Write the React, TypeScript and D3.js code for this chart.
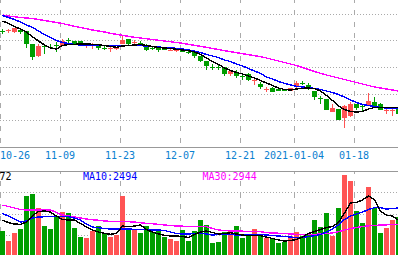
import React, { useEffect } from "react";
import * as d3 from "d3";

const dates = [
  "2020-10-26","2020-10-27","2020-10-28","2020-10-29","2020-10-30",
  "2020-11-02","2020-11-03","2020-11-04","2020-11-05","2020-11-06",
  "2020-11-09","2020-11-10","2020-11-11","2020-11-12","2020-11-13",
  "2020-11-16","2020-11-17","2020-11-18","2020-11-19","2020-11-20",
  "2020-11-23","2020-11-24","2020-11-25","2020-11-26","2020-11-27",
  "2020-11-30","2020-12-01","2020-12-02","2020-12-03","2020-12-04",
  "2020-12-07","2020-12-08","2020-12-09","2020-12-10","2020-12-11",
  "2020-12-14","2020-12-15","2020-12-16","2020-12-17","2020-12-18",
  "2020-12-21","2020-12-22","2020-12-23","2020-12-24","2020-12-25",
  "2020-12-28","2020-12-29","2020-12-30","2020-12-31",
  "2021-01-04","2021-01-05","2021-01-06","2021-01-07","2021-01-08",
  "2021-01-11","2021-01-12","2021-01-13","2021-01-14","2021-01-15",
  "2021-01-18","2021-01-19","2021-01-20","2021-01-21","2021-01-22",
  "2021-01-25","2021-01-26","2021-01-27",
];

const open = [
  18.465,18.45,18.415,18.485,18.45,17.785,17.2,17.715,17.675,17.73,
  17.715,18.01,17.95,17.95,17.75,17.785,17.785,17.595,17.58,17.585,
  17.815,18.05,17.87,17.86,17.75,17.6,17.65,17.615,17.505,17.475,
  17.515,17.42,17.385,17.185,16.95,16.66,16.66,16.65,16.285,16.35,
  16.22,16.315,15.98,15.815,15.545,15.615,15.55,15.49,15.45,15.685,
  15.86,15.75,15.45,15.09,15.05,14.415,14.55,14.1,14.185,14.785,
  14.69,14.75,14.915,14.815,14.51,14.51,14.65,
];
const high = [
  18.55,18.535,18.615,18.515,18.475,17.825,17.785,17.8,17.8,17.885,
  18.05,18.085,17.97,17.96,17.85,17.84,17.8,17.7,17.65,17.675,
  18.185,18.06,17.985,17.95,17.8,17.7,17.67,17.63,17.6,17.55,
  17.53,17.5,17.4,17.225,16.96,16.785,16.775,16.66,16.515,16.485,
  16.35,16.33,16.115,15.915,15.65,15.63,15.56,15.55,15.6,15.95,
  15.95,15.85,15.46,15.185,15.06,14.815,14.56,14.75,14.915,14.825,
  14.785,15.35,15.15,14.83,14.65,14.65,14.7,
];
const low = [
  18.315,18.35,18.35,18.3,17.585,17.025,17.175,17.325,17.55,17.415,
  17.7,17.815,17.75,17.75,17.615,17.55,17.515,17.5,17.385,17.5,
  17.8,17.7,17.75,17.715,17.45,17.485,17.415,17.49,17.45,17.4,
  17.39,17.325,17.115,16.915,16.515,16.515,16.515,16.215,16.2,16.085,
  16.015,15.97,15.75,15.55,15.415,15.4,15.43,15.43,15.44,15.515,
  15.75,15.515,15.015,14.815,14.5,14.4,14.0,13.625,14.15,14.515,
  14.45,14.72,14.585,14.5,14.285,14.215,14.3,
];
const close = [
  18.435,18.515,18.585,18.385,17.785,17.15,17.715,17.635,17.655,17.7,
  17.95,17.99,17.785,17.85,17.785,17.815,17.585,17.58,17.595,17.615,
  17.985,17.785,17.89,17.84,17.485,17.58,17.515,17.515,17.52,17.49,
  17.415,17.41,17.215,16.95,16.715,16.645,16.645,16.315,16.45,16.215,
  16.21,15.985,15.995,15.65,15.56,15.415,15.45,15.48,15.585,15.85,
  15.845,15.65,15.15,15.08,14.515,14.585,14.015,14.7,14.815,14.585,
  14.68,14.95,14.715,14.515,14.52,14.52,14.315,
];
const volume = [
  1432,866,1319,1545,3413,3526,2734,1715,1545,2281,
  2507,2451,1619,1092,1036,1432,1715,1262,1092,1206,
  3413,1489,1545,1319,1715,1375,1432,1092,979,866,
  1489,866,1432,2055,1772,753,809,1375,1489,1715,
  1036,1262,1545,1149,1036,979,753,809,1149,1375,
  1149,1206,2055,1658,2451,1149,2734,4602,4262,2564,
  1885,3922,2734,1319,1602,2055,2224,
];

const ma5 = [
  18.95,18.825,18.675,18.55,18.4,18.15,17.95,17.75,17.6,17.55,
  17.725,17.775,17.785,17.8,17.8,17.785,17.765,17.725,17.675,17.635,
  17.7,17.725,17.75,17.775,17.725,17.675,17.625,17.6,17.575,17.535,
  17.5,17.465,17.4,17.275,17.1,16.925,16.775,16.6,16.475,16.375,
  16.3,16.2,16.1,15.975,15.85,15.725,15.6,15.525,15.5,15.55,
  15.585,15.6,15.565,15.45,15.225,14.975,14.7,14.525,14.425,14.4,
  14.425,14.55,14.625,14.625,14.625,14.625,14.625,
];
const ma10 = [
  19.225,19.125,19.025,18.9,18.75,18.625,18.45,18.275,18.125,17.975,
  17.875,17.825,17.775,17.75,17.735,17.725,17.715,17.715,17.715,17.715,
  17.715,17.715,17.715,17.715,17.7,17.675,17.65,17.625,17.6,17.585,
  17.55,17.5,17.45,17.375,17.275,17.2,17.125,17.0,16.925,16.8,
  16.7,16.575,16.45,16.325,16.15,16.05,15.925,15.835,15.75,15.685,
  15.65,15.625,15.575,15.525,15.45,15.375,15.275,15.15,15.0,14.875,
  14.775,14.725,14.675,14.625,14.6,14.585,14.575,
];
const ma30 = [
  19.25,19.2,19.16,19.125,19.1,19.075,19.025,18.975,18.925,18.875,
  18.825,18.75,18.685,18.625,18.565,18.5,18.45,18.4,18.335,18.285,
  18.235,18.185,18.135,18.1,18.06,18.025,17.985,17.95,17.915,17.875,
  17.835,17.785,17.735,17.685,17.635,17.575,17.525,17.465,17.415,17.365,
  17.315,17.265,17.215,17.165,17.1,17.025,16.95,16.875,16.8,16.725,
  16.625,16.525,16.425,16.335,16.25,16.175,16.1,16.025,15.95,15.875,
  15.8,15.725,15.65,15.6,15.55,15.5,15.45,
];

const volMa5 = [
  2055,1902,1828,1811,1941,2309,2536,2564,2507,2281,
  2083,2055,2055,1856,1658,1489,1375,1302,1245,1290,
  1715,1675,1715,1772,1517,1375,1262,1189,1149,1149,
  1121,1064,1234,1375,1432,1347,1262,1290,1336,1262,
  1206,1166,1166,1166,1092,1007,923,866,894,951,
  1092,1290,1404,1517,1630,1687,1913,2450,3017,3056,
  3187,3413,3200,2560,2321,2281,2055,
];
const volMa10 = [
  2422,2281,2111,1941,1998,2168,2224,2241,2241,2241,
  2241,2241,2168,2055,1828,1658,1619,1573,1545,1545,
  1545,1545,1528,1517,1506,1489,1489,1460,1375,1290,
  1262,1262,1290,1302,1262,1206,1234,1262,1234,1206,
  1206,1223,1234,1234,1206,1177,1149,1121,1092,1053,
  1064,1121,1166,1234,1375,1545,1772,2083,2281,2394,
  2507,2649,2751,2751,2677,2705,2734,
];
const volMa30 = [
  2904,2819,2734,2649,2621,2621,2621,2621,2621,2479,
  2338,2281,2224,2168,2111,2072,2038,1998,1981,1970,
  1958,1958,1941,1902,1868,1845,1811,1772,1743,1715,
  1704,1692,1687,1681,1675,1573,1489,1460,1443,1432,
  1421,1409,1404,1398,1336,1319,1307,1290,1262,1245,
  1245,1245,1245,1262,1290,1319,1392,1489,1573,1630,
  1687,1726,1743,1772,1783,1800,1811,
];

const tickDates = ["2020-10-26","2020-11-09","2020-11-23","2020-12-07","2020-12-21","2021-01-04","2021-01-18"];
const tickLabels = ["10-26","11-09","11-23","12-07","12-21","2021-01-04","01-18"];
const priceGrid = [19.285, 17.9525, 16.62, 15.2875, 13.955];
const volLegendPrefix = "72";
const volLegendMa10 = "MA10:2494";
const volLegendMa30 = "MA30:2944";

const W = 398;
const H = 255;
const UP = "#ff5454";
const DOWN = "#009e00";
const GRID = "#aaaaaa";
const FONT = "'DejaVu Sans Mono', 'Liberation Mono', monospace";

export default function App() {
  useEffect(() => {
    document.body.style.margin = "0";
  }, []);

  const x = d3.scaleBand<string>().domain(dates).range([0, 401]).paddingInner(1 / 6).paddingOuter(0);
  const bw = x.bandwidth();
  const cx = (i: number) => (x(dates[i]) as number) + bw / 2;

  const priceTop = 0;
  const priceBottom = 147;
  const volTop = 171;
  const volBottom = 256.3;

  const yP = d3.scaleLinear().domain([12.65, 20]).range([priceBottom, priceTop]);
  const yV = d3.scaleLinear().domain([0, 4790]).range([volBottom, 171.7]);
  const volGrid = d3.range(1, 4).map((k) => (4790 * k) / 4);

  const lineP = d3.line<number>().x((_, i) => cx(i)).y((v) => yP(v));
  const lineV = d3.line<number>().x((_, i) => cx(i)).y((v) => yV(v));

  const maLines: [number[], string][] = [
    [ma30, "#ff00ff"],
    [ma10, "#0000ff"],
    [ma5, "#000000"],
  ];
  const volMaLines: [number[], string][] = [
    [volMa30, "#ff00ff"],
    [volMa10, "#0000ff"],
    [volMa5, "#000000"],
  ];

  const charW = 6.02;

  return (
    <svg
      width={W}
      height={H}
      style={{ position: "absolute", left: 0, top: 0, background: "#fff", display: "block" }}
      fontFamily={FONT}
    >
      <defs>
        <clipPath id="pclip">
          <rect x={0} y={priceTop} width={W} height={priceBottom - priceTop} />
        </clipPath>
        <clipPath id="vclip">
          <rect x={0} y={volTop + 1} width={W} height={H - volTop} />
        </clipPath>
      </defs>

      {priceGrid.map((p, k) => (
        <line key={"pg" + k} x1={0} x2={W} y1={yP(p)} y2={yP(p)} stroke={GRID} strokeDasharray="1,2" shapeRendering="crispEdges" />
      ))}
      {volGrid.map((v, k) => (
        <line key={"vg" + k} x1={0} x2={W} y1={yV(v)} y2={yV(v)} stroke={GRID} strokeDasharray="1,2" shapeRendering="crispEdges" />
      ))}
      {tickDates.map((d, k) => {
        const gx = (x(d) as number) + 0.5;
        return (
          <g key={"vl" + k}>
            <line x1={gx} x2={gx} y1={priceTop} y2={priceBottom} stroke={GRID} strokeDasharray="5,6.6" strokeDashoffset={1.7} shapeRendering="crispEdges" />
            <line x1={gx} x2={gx} y1={volTop} y2={H} stroke={GRID} strokeDasharray="5,6.6" strokeDashoffset={1.7} shapeRendering="crispEdges" />
          </g>
        );
      })}

      <line x1={0} x2={W} y1={priceBottom + 0.5} y2={priceBottom + 0.5} stroke="#999" strokeWidth={1} shapeRendering="crispEdges" />
      <line x1={0} x2={W} y1={volTop + 0.5} y2={volTop + 0.5} stroke="#999" strokeWidth={1} shapeRendering="crispEdges" />

      <g clipPath="url(#pclip)">
        {dates.map((d, i) => {
          const o = open[i];
          const c = close[i];
          const up = c >= o;
          const col = up ? UP : DOWN;
          const x0 = x(d) as number;
          const top = yP(Math.max(o, c));
          const h = Math.max(1, Math.abs(yP(o) - yP(c)));
          return (
            <g key={"c" + i}>
              <line x1={x0 + 2.5} x2={x0 + 2.5} y1={yP(high[i])} y2={yP(low[i])} stroke={col} strokeWidth={1} shapeRendering="crispEdges" />
              <rect x={x0} y={top} width={bw} height={h} fill={col} shapeRendering="crispEdges" />
            </g>
          );
        })}
        {maLines.map(([arr, col], k) => (
          <path key={"ma" + k} d={lineP(arr) || ""} fill="none" stroke={col} strokeWidth={1.4} shapeRendering="crispEdges" />
        ))}
      </g>

      {tickDates.map((d, k) => {
        const lbl = tickLabels[k];
        const c0 = x(d) as number;
        const w = lbl.length * charW;
        const left = Math.max(0, c0 - w / 2);
        return (
          <text key={"dl" + k} x={left} y={159.3} fontSize={10} fill="#0a80d0" textAnchor="start">
            {lbl}
          </text>
        );
      })}

      <g clipPath="url(#vclip)">
        {dates.map((d, i) => {
          const up = close[i] >= open[i];
          const x0 = x(d) as number;
          return (
            <rect key={"v" + i} x={x0} y={yV(volume[i])} width={bw} height={volBottom - yV(volume[i])} fill={up ? UP : DOWN} shapeRendering="crispEdges" />
          );
        })}
        {volMaLines.map(([arr, col], k) => (
          <path key={"vma" + k} d={lineV(arr) || ""} fill="none" stroke={col} strokeWidth={1.4} shapeRendering="crispEdges" />
        ))}
      </g>

      <text x={-0.5} y={180} fontSize={10} fill="#000">{volLegendPrefix}</text>
      <text x={83} y={180} fontSize={10} fill="#0000ff">{volLegendMa10}</text>
      <text x={202.5} y={180} fontSize={10} fill="#ff00ff">{volLegendMa30}</text>
    </svg>
  );
}
